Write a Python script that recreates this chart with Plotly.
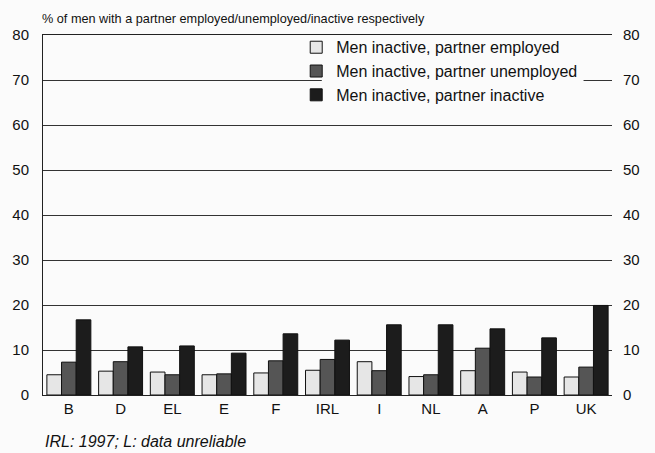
import plotly.graph_objects as go

categories = ["B", "D", "EL", "E", "F", "IRL", "I", "NL", "A", "P", "UK"]
partner_employed = [4.5, 5.3, 5.1, 4.5, 4.9, 5.5, 7.4, 4.1, 5.4, 5.1, 4.0]
partner_unemployed = [7.3, 7.4, 4.5, 4.7, 7.6, 7.9, 5.4, 4.5, 10.4, 4.0, 6.2]
partner_inactive = [16.7, 10.7, 10.9, 9.3, 13.6, 12.2, 15.6, 15.6, 14.7, 12.7, 19.9]
series_names = ["Men inactive, partner employed",
                "Men inactive, partner unemployed",
                "Men inactive, partner inactive"]
y_ticks = [0, 10, 20, 30, 40, 50, 60, 70, 80]

colors = ["#e6e6e6", "#555555", "#1c1c1c"]
font = "Liberation Sans, Arial, sans-serif"
bg = "#fbfbfb"

fig = go.Figure()
for name, vals, c in zip(series_names,
                         [partner_employed, partner_unemployed, partner_inactive],
                         colors):
    fig.add_trace(go.Bar(x=categories, y=vals, name=name,
                         marker=dict(color=c, line=dict(color="#111111", width=1))))

# invisible trace for right axis
fig.add_trace(go.Scatter(x=categories, y=[None]*len(categories), yaxis="y2",
                         showlegend=False, hoverinfo="skip", mode="lines"))

fig.update_layout(
    width=655, height=453,
    margin=dict(l=43, r=43, t=35, b=58),
    paper_bgcolor=bg, plot_bgcolor=bg,
    barmode="group", bargap=0.15, bargroupgap=0.0,
    font=dict(family=font, size=15, color="#111111"),
    xaxis=dict(showline=True, linecolor="#222222", linewidth=1, mirror=True,
               ticks="", tickfont=dict(size=15)),
    yaxis=dict(range=[0, 80], tickvals=y_ticks, showgrid=True, gridcolor="#333333",
               gridwidth=1, showline=True, linecolor="#222222", linewidth=1,
               zeroline=False, ticks="", tickfont=dict(size=15),
               ticklabelstandoff=10),
    yaxis2=dict(range=[0, 80], tickvals=y_ticks, overlaying="y", side="right",
                showgrid=False, showline=False, zeroline=False, ticks="",
                tickfont=dict(size=15), ticklabelstandoff=10),
    legend=dict(x=0.445, y=1.013, xanchor="left", yanchor="top",
                bgcolor="rgba(0,0,0,0)", font=dict(size=16), tracegroupgap=0,
                itemwidth=30),
    showlegend=True,
    shapes=[dict(type="rect", xref="paper", yref="y", x0=0.49, x1=0.95,
                 y0=68.5, y1=71.5, fillcolor=bg, line=dict(width=0),
                 layer="above")],
    annotations=[
        dict(text="% of men with a partner employed/unemployed/inactive respectively",
             xref="paper", yref="paper", x=-0.005, y=1.0, yshift=7,
             xanchor="left", yanchor="bottom", showarrow=False,
             font=dict(size=12.7)),
        dict(text="<i>IRL: 1997; L: data unreliable</i>",
             xref="paper", yref="paper", x=0.0, y=0, yshift=-36,
             xanchor="left", yanchor="top", showarrow=False,
             font=dict(size=16)),
    ],
)

fig.write_html("out.html", post_script="document.body.style.margin='0';",
               config={"displayModeBar": False})
